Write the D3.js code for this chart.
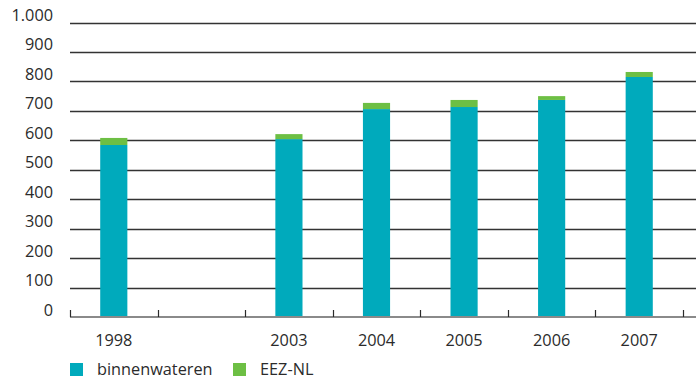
<!DOCTYPE html>
<html><head><meta charset="utf-8">
<script src="https://cdn.jsdelivr.net/npm/d3@7"></script>
<style>body{margin:0;background:#fff}svg{display:block}text{font-family:"Open Sans","Noto Sans",sans-serif;fill:#2b2b2b}</style>
</head><body><svg id="c" width="696" height="383"></svg>
<script>
const categories = ["1998", "", "2003", "2004", "2005", "2006", "2007"];
const binnenwateren = [584, null, 604, 706, 713, 737, 815];
const eezNL = [24, null, 17, 21, 24, 13, 17];
const yTicks = [0,100,200,300,400,500,600,700,800,900,1000];
const seriesNames = ["binnenwateren", "EEZ-NL"];
const colors = ["#00aabc", "#6dbf44"];

const svg = d3.select("#c");
const x = d3.scaleBand().domain(categories.map((c,i)=>i)).range([70, 683]).paddingInner(0.69).paddingOuter(0.345);
const y = d3.scaleLinear().domain([0,1000]).range([317, 22.5]);
const fmt = v => v === 1000 ? "1.000" : String(v);

// gridlines
svg.append("g").selectAll("line").data(yTicks.filter(d=>d>0)).join("line")
  .attr("x1",70).attr("x2",696).attr("y1",d=>Math.round(y(d))+0.5).attr("y2",d=>Math.round(y(d))+0.5)
  .attr("stroke","#333").attr("stroke-width",1.3);
// y labels
svg.append("g").selectAll("text").data(yTicks).join("text")
  .attr("x",53).attr("y",d=>y(d)-1.5).attr("text-anchor","end").attr("font-size",16.3).text(fmt);

// bars
const stack = categories.map((c,i)=>({i, b: binnenwateren[i], e: eezNL[i]})).filter(d=>d.b!=null);
const g = svg.append("g");
g.selectAll("rect.b").data(stack).join("rect").attr("class","b")
  .attr("x",d=>x(d.i)).attr("width",x.bandwidth())
  .attr("y",d=>y(d.b)).attr("height",d=>y(0)-y(d.b)).attr("fill",colors[0]);
g.selectAll("rect.e").data(stack).join("rect").attr("class","e")
  .attr("x",d=>x(d.i)).attr("width",x.bandwidth())
  .attr("y",d=>y(d.b+d.e)).attr("height",d=>y(d.b)-y(d.b+d.e)).attr("fill",colors[1]);

// x axis
svg.append("line").attr("x1",70).attr("x2",696).attr("y1",317).attr("y2",317).attr("stroke","#8a8a8a").attr("stroke-width",2);
const step = x.step();
const edges = categories.map((c,i)=>x(i)+x.bandwidth()/2 - step/2).concat([x(categories.length-1)+x.bandwidth()/2+step/2]);
svg.append("g").selectAll("line").data(edges).join("line")
  .attr("x1",d=>Math.round(d)+0.5).attr("x2",d=>Math.round(d)+0.5).attr("y1",310).attr("y2",317)
  .attr("stroke","#2b2b2b").attr("stroke-width",1.2);
svg.append("g").selectAll("text").data(categories.map((c,i)=>({c,i})).filter(d=>d.c)).join("text")
  .attr("x",d=>x(d.i)+x.bandwidth()/2).attr("y",346).attr("text-anchor","middle").attr("font-size",16.3).text(d=>d.c);

// legend
const lx = [70, 233];
const lg = svg.append("g").selectAll("g").data(seriesNames).join("g").attr("transform",(d,i)=>`translate(${lx[i]},363)`);
lg.append("rect").attr("width",13).attr("height",13).attr("fill",(d,i)=>colors[i]);
lg.append("text").attr("x",27).attr("y",12).attr("font-size",16.3).text(d=>d);
</script></body></html>
